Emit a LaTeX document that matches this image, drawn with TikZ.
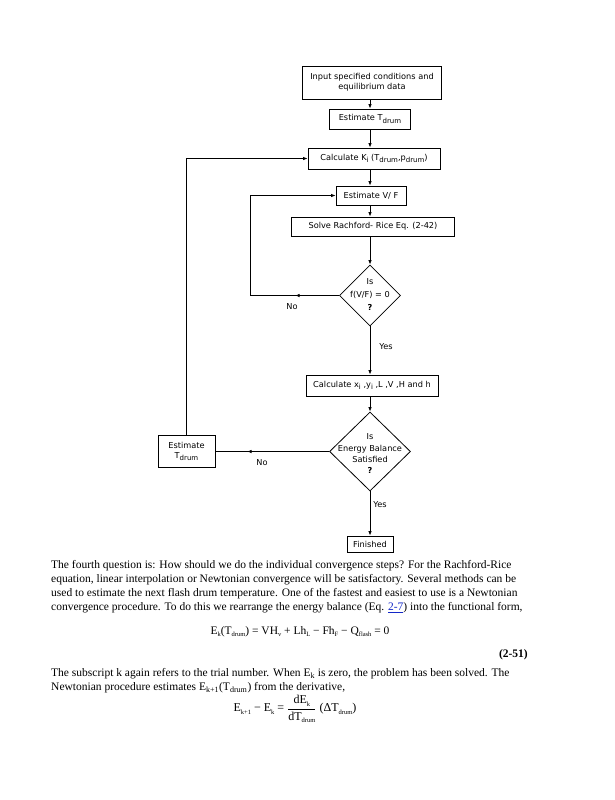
\documentclass[tikz,border=0pt]{standalone}
\usepackage{amsmath}
\usepackage{fontspec}
\setmainfont{Liberation Serif}
\newfontfamily\chartfont{DejaVu Sans}
\usepackage{tikz}
\usetikzlibrary{arrows.meta}
\usetikzlibrary{shapes.geometric}
\usetikzlibrary{decorations.markings}

\definecolor{linkblue}{RGB}{20,40,200}
\newcommand{\lowsub}[1]{\raisebox{-0.4ex}{\fontsize{6.5}{7}\selectfont #1}}
\newcommand{\chsub}[1]{\raisebox{-0.5ex}{\fontsize{7}{8}\selectfont #1}}
\newcommand{\diamtext}[2][0pt]{\makebox[0pt]{\raisebox{-#1}{\smash{\begin{tabular}[c]{@{}c@{}}#2\end{tabular}}}}}
\newcommand{\eqlink}[1]{\textcolor{linkblue}{\underline{#1}}}

\begin{document}
\begin{tikzpicture}
[x=1pt,y=-1pt,
box node/.style={draw,line width=0.8pt,font=\chartfont\fontsize{8.2}{10}\selectfont,inner sep=1pt,align=center},
test node/.style={diamond,draw,line width=0.8pt,inner sep=0pt},
word node/.style={font=\chartfont\fontsize{8.2}{10}\selectfont,inner sep=0pt},
flow/.style={line width=0.8pt,-{Latex[length=4.5pt,width=3.5pt]}},
mid arrow/.style={postaction={decorate},decoration={markings,mark=at position #1 with {\arrow{Latex[length=4.5pt,width=3.5pt]}}}},
body text/.style={font=\fontsize{11.5}{14}\selectfont,inner sep=0pt,align=left}]
\useasboundingbox (0,0) rectangle (614,800);
\fill[white] (0,0) rectangle (614,800);

% flow chart
\node[box node,minimum width=139pt,minimum height=33pt] (1) at (372,82.5) {Input specified conditions and\\ equilibrium data};
\node[box node,minimum width=81pt,minimum height=20pt] (2) at (370,119) {Estimate T\chsub{drum}};
\node[box node,minimum width=132pt,minimum height=21pt] (3) at (374,158.5) {Calculate K\chsub{i} (T\chsub{drum},p\chsub{drum})};
\node[box node,minimum width=70pt,minimum height=19pt] (4) at (371,195.5) {Estimate V/ F};
\node[box node,minimum width=163pt,minimum height=19pt] (5) at (373,226.5) {Solve Rachford- Rice Eq. (2-42)};
\node[test node,minimum width=61pt,minimum height=61pt,font=\chartfont\fontsize{8.2}{13}\selectfont] (6) at (370,295.5) {\diamtext[3pt]{Is\\ f(V/F) = 0\\ \textbf{?}}};
\node[box node,minimum width=132pt,minimum height=21pt] (7) at (372,385.5) {Calculate x\chsub{i} ,y\chsub{i} ,L ,V ,H and h};
\node[test node,minimum width=81pt,minimum height=79pt,font=\chartfont\fontsize{8.2}{11.3}\selectfont] (8) at (370,451.5) {\diamtext[10pt]{Is\\ Energy Balance\\ Satisfied\\ \textbf{?}}};
\node[box node,minimum width=57pt,minimum height=32pt] (9) at (186.5,451.5) {Estimate\\ T\chsub{drum}};
\node[box node,minimum width=46pt,minimum height=16pt] (10) at (370,544) {Finished};

\node[word node] (11) at (292,307) {No};
\node[word node] (12) at (386,347) {Yes};
\node[word node] (13) at (262,463) {No};
\node[word node] (14) at (380,505) {Yes};

\path
(1.south -| 2) edge[flow] (2)
(2) edge[flow] (2 |- 3.north)
(3.south -| 2) edge[flow] (2 |- 4.north)
(4.south -| 2) edge[flow] (2 |- 5.north)
(5.south -| 2) edge[flow] (6)
(6) edge[flow] (7.north -| 6)
(7.south -| 6) edge[flow] (8)
(8) edge[flow] (10);
\draw[flow,mid arrow=44pt] (6.west) -- ++(-89,0) |- (4.west);
\draw[line width=0.8pt,mid arrow=82pt] (8.west) -- (9.east);
\draw[flow] (9.north) |- (3.west);

% text of the page
\node[body text,anchor=north west] (15) at (51,560) {The fourth question is: How should we do the individual convergence steps? For the Rachford-Rice\\
equation, linear interpolation or Newtonian convergence will be satisfactory. Several methods can be\\
used to estimate the next flash drum temperature. One of the fastest and easiest to use is a Newtonian\\
convergence procedure. To do this we rearrange the energy balance (Eq. \eqlink{2-7}) into the functional form,};
\node[font=\fontsize{11.5}{13}\selectfont,inner sep=0pt,anchor=base] (16) at (300,634) {E\lowsub{k}(T\lowsub{drum}) = VH\lowsub{v} + Lh\lowsub{L} − Fh\lowsub{F} − Q\lowsub{flash} = 0};
\node[font=\bfseries\fontsize{11.5}{14}\selectfont,inner sep=0pt,anchor=base east] (17) at (528,657) {(2-51)};
\node[body text,anchor=north west] (18) at (51,668) {The subscript k again refers to the trial number. When E\textsubscript{k} is zero, the problem has been solved. The\\
Newtonian procedure estimates E\textsubscript{k+1}(T\textsubscript{drum}) from the derivative,};
\node[font=\fontsize{12}{13}\selectfont,inner sep=0pt] (19) at (295,709) {E\lowsub{k+1} − E\lowsub{k} = $\dfrac{\hbox{dE\lowsub{k}}}{\hbox{dT\lowsub{drum}}}$ (ΔT\lowsub{drum})};
\end{tikzpicture}
\end{document}
